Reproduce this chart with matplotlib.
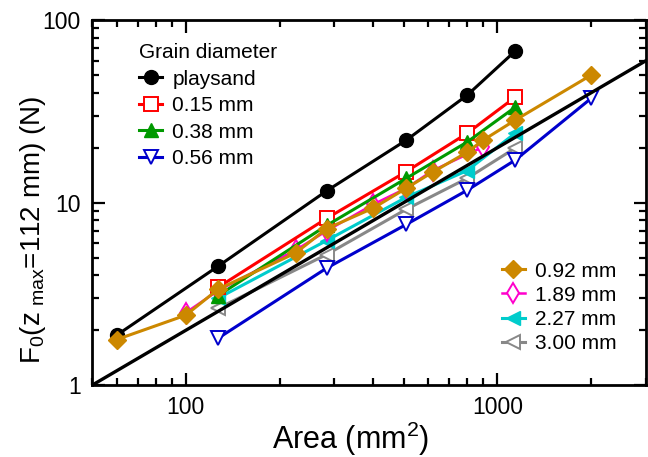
import numpy as np
import matplotlib.pyplot as plt

plt.rcParams["font.family"] = ["Liberation Sans", "DejaVu Sans"]
plt.rcParams["mathtext.default"] = "regular"

# data
area_sand = [60, 127, 283, 510, 800, 1140]
f_sand = [1.88, 4.49, 11.6, 22.0, 38.8, 67.6]

area_015 = [127, 283, 510, 800, 1140]
f_015 = [3.44, 8.2, 14.8, 24.0, 37.8]

area_038 = [127, 283, 510, 800, 1140]
f_038 = [3.1, 7.5, 13.6, 21.5, 33.3]

area_056 = [127, 283, 510, 800, 1140, 2000]
f_056 = [1.81, 4.38, 7.6, 11.7, 17.1, 37.3]

area_092 = [60, 100, 127, 225, 283, 400, 510, 620, 800, 900, 1140, 2000]
f_092 = [1.78, 2.42, 3.36, 5.3, 7.2, 9.35, 12.0, 14.7, 18.9, 22.0, 28.3, 50.0]

area_189 = [100, 127, 225, 283, 400, 510, 620, 900]
f_189 = [2.5, 3.3, 5.5, 7.0, 9.8, 12.0, 15.0, 20.2]

area_227 = [127, 283, 510, 800, 1140]
f_227 = [3.0, 6.2, 10.7, 15.0, 24.0]

area_300 = [127, 283, 510, 800, 1140]
f_300 = [2.64, 5.2, 9.2, 13.6, 19.9]

# reference line F = A / 50
ref_area = [50, 3000]
ref_slope = 1 / 50.0

fig = plt.figure(figsize=(6.48, 4.57), dpi=100)
ax = fig.add_axes([0.142, 0.157, 0.855, 0.799])

lw = 2.2
ms = 10
mew = 1.4
first = []
first.append(ax.plot(area_sand, f_sand, "-o", color="black", lw=lw, ms=ms, label="playsand")[0])
first.append(ax.plot(area_015, f_015, "-s", color="red", mfc="white", mew=mew, lw=lw, ms=ms, label="0.15 mm")[0])
first.append(ax.plot(area_038, f_038, "-^", color="#009900", lw=lw, ms=ms, label="0.38 mm")[0])
first.append(ax.plot(area_056, f_056, "-v", color="#0000cc", mfc="white", mew=mew, lw=lw, ms=ms, label="0.56 mm")[0])

second = []
second.append(ax.plot(area_092, f_092, "-D", color="#cc8800", lw=lw, ms=9, label="0.92 mm")[0])
second.append(ax.plot(area_189, f_189, "-d", color="#ff00cc", mfc="white", mew=mew, lw=1.8, ms=10, label="1.89 mm", zorder=1.9)[0])
second.append(ax.plot(area_227, f_227, "-<", color="#00cccc", lw=lw, ms=ms, label="2.27 mm", zorder=1.8)[0])
second.append(ax.plot(area_300, f_300, "-<", color="#888888", mfc="white", mew=mew, lw=lw, ms=ms, label="3.00 mm", zorder=1.7)[0])

ax.plot(ref_area, [a * ref_slope for a in ref_area], color="black", lw=2.4)

ax.set_xscale("log")
ax.set_yscale("log")
ax.set_xlim(50, 3000)
ax.set_ylim(1, 100)
ax.set_xticks([100, 1000])
ax.set_xticklabels(["100", "1000"])
ax.set_yticks([1, 10, 100])
ax.set_yticklabels(["1", "10", "100"])

for s in ax.spines.values():
    s.set_linewidth(2)
ax.tick_params(which="both", direction="in", top=True, right=True, labelsize=16.5, width=1.6)
ax.tick_params(which="major", length=9, pad=8)
ax.tick_params(which="minor", length=5)

ax.set_xlabel("Area (mm$^2$)", fontsize=22)
ax.xaxis.set_label_coords(0.467, -0.093)
ax.set_ylabel("F$_0$(z$_{\\ max}$=112 mm) (N)", fontsize=20)
ax.yaxis.set_label_coords(-0.08, 0.425)

leg1 = ax.legend(handles=first, title="Grain diameter", loc="upper left",
                 bbox_to_anchor=(0.07, 0.96), frameon=False, fontsize=15,
                 title_fontsize=15, handlelength=1.1, handletextpad=0.5,
                 labelspacing=0.36, borderaxespad=0)
leg1._legend_box.align = "left"
ax.add_artist(leg1)
ax.legend(handles=second, loc="lower right", bbox_to_anchor=(0.962, 0.065),
          frameon=False, fontsize=15, handlelength=1.1, handletextpad=0.5,
          labelspacing=0.25, borderaxespad=0)

fig.savefig("out.png", dpi=100)
